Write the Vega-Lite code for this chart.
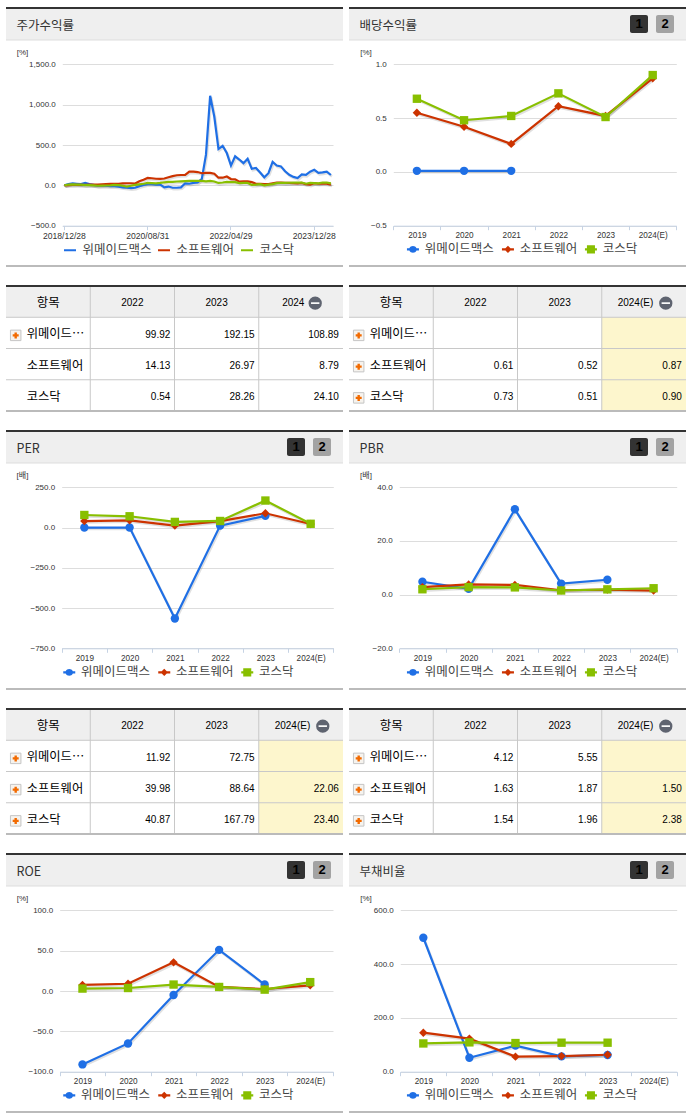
{"$schema":"https://vega.github.io/schema/vega-lite/v6.json","background":"white","padding":{"left":5,"top":7,"right":5,"bottom":0},"bounds":"flush","columns":2,"spacing":{"row":0,"column":6},
"resolve":{"scale":{"color":"independent","shape":"independent","fill":"independent"},"legend":{"color":"independent"}},
"config":{"view":{"stroke":null},"scale":{"bandPaddingInner":0,"bandPaddingOuter":0},
"title":{"anchor":"start","frame":"group","dx":10.5,"dy":29.3,"offset":0,"baseline":"middle","fontSize":12.5,"fontWeight":"normal","color":"#333333","font":"Noto Sans CJK KR"},
"axis":{"labelFont":"Liberation Sans","labelColor":"#333333","labelFontSize":8,"titleFont":"Liberation Sans, Noto Sans CJK KR","titleFontSize":8,"titleFontWeight":"normal","titleColor":"#333333","labelOverlap":false},
"axisX":{"domainColor":"#c6d3e4","tickColor":"#c6d3e4","tickSize":4,"labelPadding":2,"labelAngle":0,"grid":false,"labelFontSize":8.2},
"axisY":{"domain":false,"ticks":false,"gridColor":"#dddddd","grid":true,"labelPadding":7,"titleAngle":0,"titleAlign":"center","titleBaseline":"middle"},
"legend":{"labelFont":"Noto Sans CJK KR","labelFontSize":12.5,"labelColor":"#444444","symbolSize":144,"labelOffset":5.5,"columnPadding":2,"padding":0,"symbolStrokeWidth":2},
"style":{"val":{"font":"Liberation Sans","fontSize":10,"align":"right","baseline":"middle","fill":"#333333","dy":1.8},"hd":{"font":"Liberation Sans","fontSize":10,"align":"center","baseline":"middle","fill":"#333333","dy":1.5},"ko":{"font":"Noto Sans CJK KR","fontSize":12.5,"align":"center","baseline":"middle","fill":"#444444","dy":1.5},"nm":{"font":"Noto Sans CJK KR","fontSize":12.3,"align":"left","baseline":"middle","fill":"#444444","dy":1.5},"btn":{"font":"Liberation Sans","fontSize":13,"fontWeight":"bold","align":"center","baseline":"middle","fill":"#ffffff"}}},
"datasets":{
"hp":[{"p":"h"}],"hb":[{"p":"h","b":"1"},{"p":"h","b":"2"}],"none":[],
"rh":[{"col":"항목","row":"항목"}],
"est":[{"col":"2024(E)","row":"위메이드⋯"},{"col":"2024(E)","row":"소프트웨어"},{"col":"2024(E)","row":"코스닥"}],
"vr":[{"col":"항목"},{"col":"2022"},{"col":"2023"}],
"hr":[{"row":"항목"},{"row":"위메이드⋯"},{"row":"소프트웨어"}],
"rb":[{"row":"코스닥"}],
"th":[{"col":"2022","row":"항목"},{"col":"2023","row":"항목"}],
"te":[{"col":"2024(E)","row":"항목","label":"2024(E)"}],
"te0":[{"col":"2024(E)","row":"항목","label":"2024"}],
"names":[{"col":"항목","row":"위메이드⋯"},{"col":"항목","row":"소프트웨어"},{"col":"항목","row":"코스닥"}],
"ic1":[{"col":"항목","row":"위메이드⋯"}],
"t1":[{"col":"2022","row":"위메이드⋯","val":"99.92"},{"col":"2023","row":"위메이드⋯","val":"192.15"},{"col":"2024(E)","row":"위메이드⋯","val":"108.89"},{"col":"2022","row":"소프트웨어","val":"14.13"},{"col":"2023","row":"소프트웨어","val":"26.97"},{"col":"2024(E)","row":"소프트웨어","val":"8.79"},{"col":"2022","row":"코스닥","val":"0.54"},{"col":"2023","row":"코스닥","val":"28.26"},{"col":"2024(E)","row":"코스닥","val":"24.10"}],
"t2":[{"col":"2022","row":"소프트웨어","val":"0.61"},{"col":"2023","row":"소프트웨어","val":"0.52"},{"col":"2024(E)","row":"소프트웨어","val":"0.87"},{"col":"2022","row":"코스닥","val":"0.73"},{"col":"2023","row":"코스닥","val":"0.51"},{"col":"2024(E)","row":"코스닥","val":"0.90"}],
"t3":[{"col":"2022","row":"위메이드⋯","val":"11.92"},{"col":"2023","row":"위메이드⋯","val":"72.75"},{"col":"2022","row":"소프트웨어","val":"39.98"},{"col":"2023","row":"소프트웨어","val":"88.64"},{"col":"2024(E)","row":"소프트웨어","val":"22.06"},{"col":"2022","row":"코스닥","val":"40.87"},{"col":"2023","row":"코스닥","val":"167.79"},{"col":"2024(E)","row":"코스닥","val":"23.40"}],
"t4":[{"col":"2022","row":"위메이드⋯","val":"4.12"},{"col":"2023","row":"위메이드⋯","val":"5.55"},{"col":"2022","row":"소프트웨어","val":"1.63"},{"col":"2023","row":"소프트웨어","val":"1.87"},{"col":"2024(E)","row":"소프트웨어","val":"1.50"},{"col":"2022","row":"코스닥","val":"1.54"},{"col":"2023","row":"코스닥","val":"1.96"},{"col":"2024(E)","row":"코스닥","val":"2.38"}],
"c1":[
{"d":"2018/12/28","위메이드맥스":0,"소프트웨어":0,"코스닥":0},{"d":"2019/01/31","위메이드맥스":15,"소프트웨어":3,"코스닥":10},{"d":"2019/02/28","위메이드맥스":25,"소프트웨어":5,"코스닥":12},{"d":"2019/03/29","위메이드맥스":20,"소프트웨어":6,"코스닥":10},{"d":"2019/04/30","위메이드맥스":15,"소프트웨어":7,"코스닥":8},{"d":"2019/05/31","위메이드맥스":30,"소프트웨어":5,"코스닥":2},{"d":"2019/06/28","위메이드맥스":15,"소프트웨어":8,"코스닥":3},{"d":"2019/07/31","위메이드맥스":5,"소프트웨어":8,"코스닥":0},{"d":"2019/08/30","위메이드맥스":-5,"소프트웨어":10,"코스닥":-5},{"d":"2019/09/30","위메이드맥스":-5,"소프트웨어":12,"코스닥":-3},{"d":"2019/10/31","위메이드맥스":-5,"소프트웨어":15,"코스닥":-2},{"d":"2019/11/29","위메이드맥스":-10,"소프트웨어":18,"코스닥":0},{"d":"2019/12/30","위메이드맥스":-10,"소프트웨어":18,"코스닥":5},{"d":"2020/01/31","위메이드맥스":-15,"소프트웨어":20,"코스닥":3},{"d":"2020/02/28","위메이드맥스":-25,"소프트웨어":24,"코스닥":-5},{"d":"2020/03/31","위메이드맥스":-30,"소프트웨어":26,"코스닥":-15},{"d":"2020/04/29","위메이드맥스":-35,"소프트웨어":26,"코스닥":-5},{"d":"2020/05/29","위메이드맥스":-30,"소프트웨어":22,"코스닥":5},{"d":"2020/06/30","위메이드맥스":-10,"소프트웨어":50,"코스닥":12},{"d":"2020/07/31","위메이드맥스":5,"소프트웨어":70,"코스닥":20},{"d":"2020/08/31","위메이드맥스":15,"소프트웨어":92,"코스닥":30},{"d":"2020/09/29","위메이드맥스":15,"소프트웨어":88,"코스닥":28},{"d":"2020/10/30","위메이드맥스":10,"소프트웨어":82,"코스닥":25},{"d":"2020/11/30","위메이드맥스":10,"소프트웨어":80,"코스닥":30},{"d":"2020/12/30","위메이드맥스":-25,"소프트웨어":85,"코스닥":38},{"d":"2021/01/29","위메이드맥스":-15,"소프트웨어":100,"코스닥":42},{"d":"2021/02/26","위메이드맥스":-30,"소프트웨어":115,"코스닥":42},{"d":"2021/03/31","위메이드맥스":-30,"소프트웨어":125,"코스닥":48},{"d":"2021/04/30","위메이드맥스":-25,"소프트웨어":128,"코스닥":50},{"d":"2021/05/31","위메이드맥스":25,"소프트웨어":130,"코스닥":52},{"d":"2021/06/30","위메이드맥스":20,"소프트웨어":170,"코스닥":55},{"d":"2021/07/30","위메이드맥스":30,"소프트웨어":170,"코스닥":55},{"d":"2021/08/31","위메이드맥스":35,"소프트웨어":165,"코스닥":55},{"d":"2021/09/30","위메이드맥스":80,"소프트웨어":150,"코스닥":55},{"d":"2021/10/29","위메이드맥스":380,"소프트웨어":155,"코스닥":50},{"d":"2021/11/30","위메이드맥스":1110,"소프트웨어":155,"코스닥":55},{"d":"2021/12/30","위메이드맥스":850,"소프트웨어":145,"코스닥":48},{"d":"2022/01/28","위메이드맥스":450,"소프트웨어":95,"코스닥":30},{"d":"2022/02/28","위메이드맥스":490,"소프트웨어":95,"코스닥":35},{"d":"2022/03/31","위메이드맥스":400,"소프트웨어":110,"코스닥":42},{"d":"2022/04/29","위메이드맥스":245,"소프트웨어":78,"코스닥":40},{"d":"2022/05/31","위메이드맥스":360,"소프트웨어":75,"코스닥":40},{"d":"2022/06/30","위메이드맥스":320,"소프트웨어":45,"코스닥":28},{"d":"2022/07/29","위메이드맥스":275,"소프트웨어":50,"코스닥":30},{"d":"2022/08/31","위메이드맥스":330,"소프트웨어":50,"코스닥":30},{"d":"2022/09/30","위메이드맥스":205,"소프트웨어":40,"코스닥":5},{"d":"2022/10/31","위메이드맥스":215,"소프트웨어":20,"코스닥":8},{"d":"2022/11/30","위메이드맥스":160,"소프트웨어":20,"코스닥":15},{"d":"2022/12/29","위메이드맥스":99.92,"소프트웨어":14.13,"코스닥":0.54},{"d":"2023/01/31","위메이드맥스":150,"소프트웨어":15,"코스닥":8},{"d":"2023/02/28","위메이드맥스":290,"소프트웨어":25,"코스닥":15},{"d":"2023/03/31","위메이드맥스":245,"소프트웨어":35,"코스닥":28},{"d":"2023/04/28","위메이드맥스":235,"소프트웨어":35,"코스닥":30},{"d":"2023/05/31","위메이드맥스":175,"소프트웨어":30,"코스닥":30},{"d":"2023/06/30","위메이드맥스":130,"소프트웨어":30,"코스닥":32},{"d":"2023/07/31","위메이드맥스":105,"소프트웨어":28,"코스닥":35},{"d":"2023/08/31","위메이드맥스":90,"소프트웨어":25,"코스닥":35},{"d":"2023/09/27","위메이드맥스":135,"소프트웨어":30,"코스닥":35},{"d":"2023/10/31","위메이드맥스":130,"소프트웨어":15,"코스닥":20},{"d":"2023/11/30","위메이드맥스":170,"소프트웨어":8,"코스닥":30},{"d":"2023/12/28","위메이드맥스":192.15,"소프트웨어":26.97,"코스닥":28.26},{"d":"2024/01/31","위메이드맥스":155,"소프트웨어":20,"코스닥":25},{"d":"2024/02/29","위메이드맥스":160,"소프트웨어":25,"코스닥":35},{"d":"2024/03/29","위메이드맥스":170,"소프트웨어":20,"코스닥":35},{"d":"2024/04/30","위메이드맥스":128,"소프트웨어":8.79,"코스닥":24.1}],
"c2":[{"yr":"2019","위메이드맥스":0.01,"소프트웨어":0.55,"코스닥":0.68},{"yr":"2020","위메이드맥스":0.01,"소프트웨어":0.42,"코스닥":0.48},{"yr":"2021","위메이드맥스":0.01,"소프트웨어":0.26,"코스닥":0.52},{"yr":"2022","위메이드맥스":null,"소프트웨어":0.61,"코스닥":0.73},{"yr":"2023","위메이드맥스":null,"소프트웨어":0.52,"코스닥":0.51},{"yr":"2024(E)","위메이드맥스":null,"소프트웨어":0.87,"코스닥":0.9}],
"c3":[{"yr":"2019","위메이드맥스":0,"소프트웨어":40,"코스닥":78},{"yr":"2020","위메이드맥스":0,"소프트웨어":45,"코스닥":70},{"yr":"2021","위메이드맥스":-565,"소프트웨어":12,"코스닥":35},{"yr":"2022","위메이드맥스":11.92,"소프트웨어":39.98,"코스닥":40.87},{"yr":"2023","위메이드맥스":72.75,"소프트웨어":88.64,"코스닥":167.79},{"yr":"2024(E)","위메이드맥스":null,"소프트웨어":22.06,"코스닥":23.4}],
"c4":[{"yr":"2019","위메이드맥스":4.8,"소프트웨어":2.8,"코스닥":2},{"yr":"2020","위메이드맥스":2.2,"소프트웨어":3.8,"코스닥":2.8},{"yr":"2021","위메이드맥스":31.8,"소프트웨어":3.6,"코스닥":2.7},{"yr":"2022","위메이드맥스":4.12,"소프트웨어":1.63,"코스닥":1.54},{"yr":"2023","위메이드맥스":5.55,"소프트웨어":1.87,"코스닥":1.96},{"yr":"2024(E)","위메이드맥스":null,"소프트웨어":1.5,"코스닥":2.38}],
"c5":[{"yr":"2019","위메이드맥스":-91,"소프트웨어":7.5,"코스닥":3},{"yr":"2020","위메이드맥스":-65,"소프트웨어":9,"코스닥":3.7},{"yr":"2021","위메이드맥스":-5,"소프트웨어":35.5,"코스닥":8},{"yr":"2022","위메이드맥스":51,"소프트웨어":5,"코스닥":5},{"yr":"2023","위메이드맥스":8,"소프트웨어":2.5,"코스닥":1.7},{"yr":"2024(E)","위메이드맥스":null,"소프트웨어":7,"코스닥":11}],
"c6":[{"yr":"2019","위메이드맥스":498,"소프트웨어":145,"코스닥":105},{"yr":"2020","위메이드맥스":52,"소프트웨어":123,"코스닥":109},{"yr":"2021","위메이드맥스":97,"소프트웨어":56,"코스닥":106.5},{"yr":"2022","위메이드맥스":57,"소프트웨어":58,"코스닥":107.8},{"yr":"2023","위메이드맥스":62,"소프트웨어":63,"코스닥":107.8},{"yr":"2024(E)","위메이드맥스":null,"소프트웨어":null,"코스닥":null}]
},
"concat":[
{"width":337,"height":32,"title":"주가수익률","data":{"name":"hp"},"layer":[{"mark":{"type":"rect","fill":"#efefef"},"encoding":{"y":{"field":"p","type":"nominal","axis":null,"scale":{"type":"band"}}}},{"mark":{"type":"rule","color":"#333333","strokeWidth":2},"encoding":{"y":{"field":"p","type":"nominal","axis":null,"bandPosition":0}}},{"mark":{"type":"rule","color":"#dddddd","strokeWidth":1},"encoding":{"y":{"field":"p","type":"nominal","axis":null,"bandPosition":1}}}]},
{"width":337,"height":32,"title":"배당수익률","data":{"name":"hp"},"layer":[{"mark":{"type":"rect","fill":"#efefef"},"encoding":{"y":{"field":"p","type":"nominal","axis":null,"scale":{"type":"band"}}}},{"mark":{"type":"rule","color":"#333333","strokeWidth":2},"encoding":{"y":{"field":"p","type":"nominal","axis":null,"bandPosition":0}}},{"mark":{"type":"rule","color":"#dddddd","strokeWidth":1},"encoding":{"y":{"field":"p","type":"nominal","axis":null,"bandPosition":1}}},{"data":{"name":"hb"},"mark":{"type":"rect","width":18,"height":18,"cornerRadius":2},"encoding":{"x":{"field":"b","type":"nominal","axis":null,"scale":{"type":"point","domain":["1","2"],"range":[290,316],"padding":0}},"y":{"field":"p","type":"nominal","axis":null},"fill":{"field":"b","type":"nominal","legend":null,"scale":{"domain":["1","2"],"range":["#333333","#a3a3a3"]}}}},{"data":{"name":"hb"},"mark":{"type":"text","style":"btn"},"encoding":{"x":{"field":"b","type":"nominal","axis":null},"y":{"field":"p","type":"nominal","axis":null},"text":{"field":"b"}}}]},

{"width":337,"height":226,"data":{"name":"c1"},"transform":[{"fold":["위메이드맥스","소프트웨어","코스닥"],"as":["s","v"]}],"encoding":{"x":{"field":"d","type":"nominal","sort":null,"scale":{"type":"band","range":[56.3,327]},"axis":{"title":null,"offset":-40.3,"tickBand":"center","values":["2018/12/28","2020/08/31","2022/04/29","2023/12/28"],"labelFontSize":8.6}},"y":{"field":"v","type":"quantitative","scale":{"domain":[-500,1500],"range":[185.7,24.3],"nice":false,"zero":false},"axis":{"values":[-500,0,500,1000,1500],"format":",.1f","offset":-56.3,"title":"[%]","titleX":-40.3,"titleY":12.3}}},"layer":[{"mark":{"type":"line","stroke":"#000000","opacity":0.12,"strokeWidth":2.5,"xOffset":1,"yOffset":1.5},"encoding":{"detail":{"field":"s"}}},{"mark":{"type":"line","strokeWidth":2.2},"encoding":{"color":{"field":"s","type":"nominal","scale":{"domain":["위메이드맥스","소프트웨어","코스닥"],"range":["#1f6fe5","#cc3300","#88bf00"]},"legend":{"title":null,"orient":"none","legendX":57,"legendY":203,"direction":"horizontal","symbolType":"stroke"}}}}]},
{"width":337,"height":226,"data":{"name":"c2"},"transform":[{"fold":["위메이드맥스","소프트웨어","코스닥"],"as":["s","v"]}],"encoding":{"x":{"field":"yr","type":"nominal","scale":{"type":"band","domain":["2019","2020","2021","2022","2023","2024(E)"],"range":[44.3,327.3]},"axis":{"title":null,"offset":-40.3,"tickBand":"extent"}},"y":{"field":"v","type":"quantitative","scale":{"domain":[-0.5,1],"range":[185.7,24.3],"nice":false,"zero":false},"axis":{"values":[-0.5,0,0.5,1],"format":".1f","offset":-44.3,"title":"[%]","titleX":-27.8,"titleY":12.3}}},"layer":[{"mark":{"type":"line","stroke":"#000000","opacity":0.12,"strokeWidth":2.5,"xOffset":1,"yOffset":1.5},"encoding":{"detail":{"field":"s"}}},{"mark":{"type":"line","strokeWidth":2.2},"encoding":{"color":{"field":"s","type":"nominal","scale":{"domain":["위메이드맥스","소프트웨어","코스닥"],"range":["#1f6fe5","#cc3300","#88bf00"]}}}},{"mark":{"type":"point","filled":true,"size":0},"encoding":{"color":{"field":"s","type":"nominal","legend":{"title":null,"orient":"none","legendX":57.7,"legendY":203,"direction":"horizontal","columnPadding":7,"symbolStrokeWidth":0,"symbolOpacity":1}},"shape":{"field":"s","type":"nominal","legend":null,"scale":{"domain":["위메이드맥스","소프트웨어","코스닥"],"range":["M-1 -.17H-.6A.67 .67 0 0 1 .6 -.17H1V.17H.6A.67 .67 0 0 1 -.6 .17H-1Z","M-1 -.17H-.42L0 -.6L.42 -.17H1V.17H.42L0 .6L-.42 .17H-1Z","M-1 -.17H-.67V-.67H.67V-.17H1V.17H.67V.67H-.67V.17H-1Z"]}}}},{"transform":[{"filter":"datum.s==='위메이드맥스'"}],"mark":{"type":"point","shape":"circle","filled":true,"opacity":1,"size":70},"encoding":{"color":{"field":"s","type":"nominal"}}},{"transform":[{"filter":"datum.s==='소프트웨어'"}],"mark":{"type":"point","shape":"diamond","filled":true,"opacity":1,"size":70},"encoding":{"color":{"field":"s","type":"nominal"}}},{"transform":[{"filter":"datum.s==='코스닥'"}],"mark":{"type":"point","shape":"square","filled":true,"opacity":1,"size":70},"encoding":{"color":{"field":"s","type":"nominal"}}}]},

{"width":337,"height":20,"data":{"name":"hp"},"mark":{"type":"rule","color":"#bbbbbb","strokeWidth":2},"encoding":{"y":{"field":"p","type":"nominal","axis":null,"bandPosition":0,"scale":{"type":"band"}}}},
{"width":337,"height":20,"data":{"name":"hp"},"mark":{"type":"rule","color":"#bbbbbb","strokeWidth":2},"encoding":{"y":{"field":"p","type":"nominal","axis":null,"bandPosition":0,"scale":{"type":"band"}}}},

{"width":337,"height":125,"layer":[
{"data":{"name":"rh"},"mark":{"type":"rect","fill":"#efefef"},"encoding":{"y":{"field":"row","type":"nominal","axis":null,"scale":{"type":"band","domain":["항목","위메이드⋯","소프트웨어","코스닥"]}}}},
{"data":{"name":"vr"},"mark":{"type":"rule","color":"#c8c8c8"},"encoding":{"x":{"field":"col","type":"nominal","axis":null,"bandPosition":1,"scale":{"type":"band","domain":["항목","2022","2023","2024(E)"]}}}},
{"data":{"name":"hr"},"mark":{"type":"rule","color":"#c8c8c8"},"encoding":{"y":{"field":"row","type":"nominal","axis":null,"bandPosition":1}}},
{"data":{"name":"rb"},"mark":{"type":"rule","color":"#bbbbbb","strokeWidth":2},"encoding":{"y":{"field":"row","type":"nominal","axis":null,"bandPosition":1}}},
{"data":{"name":"rh"},"mark":{"type":"rule","color":"#333333","strokeWidth":2},"encoding":{"y":{"field":"row","type":"nominal","axis":null,"bandPosition":0}}},
{"data":{"name":"rh"},"mark":{"type":"text","style":"ko"},"encoding":{"x":{"field":"col","type":"nominal","axis":null,"bandPosition":0.5},"y":{"field":"row","type":"nominal","axis":null},"text":{"field":"row"}}},
{"data":{"name":"th"},"mark":{"type":"text","style":"hd"},"encoding":{"x":{"field":"col","type":"nominal","axis":null,"bandPosition":0.5},"y":{"field":"row","type":"nominal","axis":null},"text":{"field":"col"}}},
{"data":{"name":"te0"},"mark":{"type":"text","style":"hd"},"encoding":{"x":{"field":"col","type":"nominal","axis":null,"bandPosition":0.41},"y":{"field":"row","type":"nominal","axis":null},"text":{"field":"label"}}},
{"data":{"name":"te0"},"mark":{"type":"point","shape":"circle","filled":true,"opacity":1,"color":"#5f6470","size":177,"yOffset":1.5},"encoding":{"x":{"field":"col","type":"nominal","axis":null,"bandPosition":0.67},"y":{"field":"row","type":"nominal","axis":null}}},
{"data":{"name":"te0"},"mark":{"type":"point","shape":"M-1 -.2H1V.2H-1Z","filled":true,"opacity":1,"color":"#ffffff","size":70,"yOffset":1.5},"encoding":{"x":{"field":"col","type":"nominal","axis":null,"bandPosition":0.67},"y":{"field":"row","type":"nominal","axis":null}}},
{"data":{"name":"names"},"mark":{"type":"text","style":"nm"},"encoding":{"x":{"field":"col","type":"nominal","axis":null,"bandPosition":0.245},"y":{"field":"row","type":"nominal","axis":null},"text":{"field":"row"}}},
{"data":{"name":"ic1"},"mark":{"type":"point","shape":"square","filled":true,"opacity":1,"fill":"#f6f3ee","stroke":"#c5c5c5","strokeWidth":1,"size":110,"yOffset":2.5},"encoding":{"x":{"field":"col","type":"nominal","axis":null,"bandPosition":0.115},"y":{"field":"row","type":"nominal","axis":null}}},
{"data":{"name":"ic1"},"mark":{"type":"point","shape":"cross","filled":true,"opacity":1,"color":"#f26a00","size":36,"yOffset":2.5},"encoding":{"x":{"field":"col","type":"nominal","axis":null,"bandPosition":0.115},"y":{"field":"row","type":"nominal","axis":null}}},
{"data":{"name":"t1"},"mark":{"type":"text","style":"val"},"encoding":{"x":{"field":"col","type":"nominal","axis":null,"bandPosition":0.95},"y":{"field":"row","type":"nominal","axis":null},"text":{"field":"val"}}}
]},
{"width":337,"height":125,"layer":[
{"data":{"name":"rh"},"mark":{"type":"rect","fill":"#efefef"},"encoding":{"y":{"field":"row","type":"nominal","axis":null,"scale":{"type":"band","domain":["항목","위메이드⋯","소프트웨어","코스닥"]}}}},
{"data":{"name":"est"},"mark":{"type":"rect","fill":"#fdf6cd"},"encoding":{"x":{"field":"col","type":"nominal","axis":null,"scale":{"type":"band","domain":["항목","2022","2023","2024(E)"]}},"y":{"field":"row","type":"nominal","axis":null}}},
{"data":{"name":"vr"},"mark":{"type":"rule","color":"#c8c8c8"},"encoding":{"x":{"field":"col","type":"nominal","axis":null,"bandPosition":1}}},
{"data":{"name":"hr"},"mark":{"type":"rule","color":"#c8c8c8"},"encoding":{"y":{"field":"row","type":"nominal","axis":null,"bandPosition":1}}},
{"data":{"name":"rb"},"mark":{"type":"rule","color":"#bbbbbb","strokeWidth":2},"encoding":{"y":{"field":"row","type":"nominal","axis":null,"bandPosition":1}}},
{"data":{"name":"rh"},"mark":{"type":"rule","color":"#333333","strokeWidth":2},"encoding":{"y":{"field":"row","type":"nominal","axis":null,"bandPosition":0}}},
{"data":{"name":"rh"},"mark":{"type":"text","style":"ko"},"encoding":{"x":{"field":"col","type":"nominal","axis":null,"bandPosition":0.5},"y":{"field":"row","type":"nominal","axis":null},"text":{"field":"row"}}},
{"data":{"name":"th"},"mark":{"type":"text","style":"hd"},"encoding":{"x":{"field":"col","type":"nominal","axis":null,"bandPosition":0.5},"y":{"field":"row","type":"nominal","axis":null},"text":{"field":"col"}}},
{"data":{"name":"te"},"mark":{"type":"text","style":"hd"},"encoding":{"x":{"field":"col","type":"nominal","axis":null,"bandPosition":0.4},"y":{"field":"row","type":"nominal","axis":null},"text":{"field":"label"}}},
{"data":{"name":"te"},"mark":{"type":"point","shape":"circle","filled":true,"opacity":1,"color":"#5f6470","size":177,"yOffset":1.5},"encoding":{"x":{"field":"col","type":"nominal","axis":null,"bandPosition":0.76},"y":{"field":"row","type":"nominal","axis":null}}},
{"data":{"name":"te"},"mark":{"type":"point","shape":"M-1 -.2H1V.2H-1Z","filled":true,"opacity":1,"color":"#ffffff","size":70,"yOffset":1.5},"encoding":{"x":{"field":"col","type":"nominal","axis":null,"bandPosition":0.76},"y":{"field":"row","type":"nominal","axis":null}}},
{"data":{"name":"names"},"mark":{"type":"text","style":"nm"},"encoding":{"x":{"field":"col","type":"nominal","axis":null,"bandPosition":0.245},"y":{"field":"row","type":"nominal","axis":null},"text":{"field":"row"}}},
{"data":{"name":"names"},"mark":{"type":"point","shape":"square","filled":true,"opacity":1,"fill":"#f6f3ee","stroke":"#c5c5c5","strokeWidth":1,"size":110,"yOffset":2.5},"encoding":{"x":{"field":"col","type":"nominal","axis":null,"bandPosition":0.115},"y":{"field":"row","type":"nominal","axis":null}}},
{"data":{"name":"names"},"mark":{"type":"point","shape":"cross","filled":true,"opacity":1,"color":"#f26a00","size":36,"yOffset":2.5},"encoding":{"x":{"field":"col","type":"nominal","axis":null,"bandPosition":0.115},"y":{"field":"row","type":"nominal","axis":null}}},
{"data":{"name":"t2"},"mark":{"type":"text","style":"val"},"encoding":{"x":{"field":"col","type":"nominal","axis":null,"bandPosition":0.95},"y":{"field":"row","type":"nominal","axis":null},"text":{"field":"val"}}}
]},

{"width":337,"height":20,"data":{"name":"none"},"mark":"rect"},
{"width":337,"height":20,"data":{"name":"none"},"mark":"rect"},

{"width":337,"height":32,"title":"PER","data":{"name":"hp"},"layer":[{"mark":{"type":"rect","fill":"#efefef"},"encoding":{"y":{"field":"p","type":"nominal","axis":null,"scale":{"type":"band"}}}},{"mark":{"type":"rule","color":"#333333","strokeWidth":2},"encoding":{"y":{"field":"p","type":"nominal","axis":null,"bandPosition":0}}},{"mark":{"type":"rule","color":"#dddddd","strokeWidth":1},"encoding":{"y":{"field":"p","type":"nominal","axis":null,"bandPosition":1}}},{"data":{"name":"hb"},"mark":{"type":"rect","width":18,"height":18,"cornerRadius":2},"encoding":{"x":{"field":"b","type":"nominal","axis":null,"scale":{"type":"point","domain":["1","2"],"range":[290,316],"padding":0}},"y":{"field":"p","type":"nominal","axis":null},"fill":{"field":"b","type":"nominal","legend":null,"scale":{"domain":["1","2"],"range":["#333333","#a3a3a3"]}}}},{"data":{"name":"hb"},"mark":{"type":"text","style":"btn"},"encoding":{"x":{"field":"b","type":"nominal","axis":null},"y":{"field":"p","type":"nominal","axis":null},"text":{"field":"b"}}}]},
{"width":337,"height":32,"title":"PBR","data":{"name":"hp"},"layer":[{"mark":{"type":"rect","fill":"#efefef"},"encoding":{"y":{"field":"p","type":"nominal","axis":null,"scale":{"type":"band"}}}},{"mark":{"type":"rule","color":"#333333","strokeWidth":2},"encoding":{"y":{"field":"p","type":"nominal","axis":null,"bandPosition":0}}},{"mark":{"type":"rule","color":"#dddddd","strokeWidth":1},"encoding":{"y":{"field":"p","type":"nominal","axis":null,"bandPosition":1}}},{"data":{"name":"hb"},"mark":{"type":"rect","width":18,"height":18,"cornerRadius":2},"encoding":{"x":{"field":"b","type":"nominal","axis":null,"scale":{"type":"point","domain":["1","2"],"range":[290,316],"padding":0}},"y":{"field":"p","type":"nominal","axis":null},"fill":{"field":"b","type":"nominal","legend":null,"scale":{"domain":["1","2"],"range":["#333333","#a3a3a3"]}}}},{"data":{"name":"hb"},"mark":{"type":"text","style":"btn"},"encoding":{"x":{"field":"b","type":"nominal","axis":null},"y":{"field":"p","type":"nominal","axis":null},"text":{"field":"b"}}}]},

{"width":337,"height":226,"data":{"name":"c3"},"transform":[{"fold":["위메이드맥스","소프트웨어","코스닥"],"as":["s","v"]}],"encoding":{"x":{"field":"yr","type":"nominal","scale":{"type":"band","domain":["2019","2020","2021","2022","2023","2024(E)"],"range":[55.7,327.3]},"axis":{"title":null,"offset":-40.7,"tickBand":"extent"}},"y":{"field":"v","type":"quantitative","scale":{"domain":[-750,250],"range":[185.3,24.3],"nice":false,"zero":false},"axis":{"values":[-750,-500,-250,0,250],"format":",.1f","offset":-55.7,"title":"[배]","titleX":-39.7,"titleY":12.3}}},"layer":[{"mark":{"type":"line","stroke":"#000000","opacity":0.12,"strokeWidth":2.5,"xOffset":1,"yOffset":1.5},"encoding":{"detail":{"field":"s"}}},{"mark":{"type":"line","strokeWidth":2.2},"encoding":{"color":{"field":"s","type":"nominal","scale":{"domain":["위메이드맥스","소프트웨어","코스닥"],"range":["#1f6fe5","#cc3300","#88bf00"]}}}},{"mark":{"type":"point","filled":true,"size":0},"encoding":{"color":{"field":"s","type":"nominal","legend":{"title":null,"orient":"none","legendX":57,"legendY":203,"direction":"horizontal","columnPadding":7,"symbolStrokeWidth":0,"symbolOpacity":1}},"shape":{"field":"s","type":"nominal","legend":null,"scale":{"domain":["위메이드맥스","소프트웨어","코스닥"],"range":["M-1 -.17H-.6A.67 .67 0 0 1 .6 -.17H1V.17H.6A.67 .67 0 0 1 -.6 .17H-1Z","M-1 -.17H-.42L0 -.6L.42 -.17H1V.17H.42L0 .6L-.42 .17H-1Z","M-1 -.17H-.67V-.67H.67V-.17H1V.17H.67V.67H-.67V.17H-1Z"]}}}},{"transform":[{"filter":"datum.s==='위메이드맥스'"}],"mark":{"type":"point","shape":"circle","filled":true,"opacity":1,"size":70},"encoding":{"color":{"field":"s","type":"nominal"}}},{"transform":[{"filter":"datum.s==='소프트웨어'"}],"mark":{"type":"point","shape":"diamond","filled":true,"opacity":1,"size":70},"encoding":{"color":{"field":"s","type":"nominal"}}},{"transform":[{"filter":"datum.s==='코스닥'"}],"mark":{"type":"point","shape":"square","filled":true,"opacity":1,"size":70},"encoding":{"color":{"field":"s","type":"nominal"}}}]},
{"width":337,"height":226,"data":{"name":"c4"},"transform":[{"fold":["위메이드맥스","소프트웨어","코스닥"],"as":["s","v"]}],"encoding":{"x":{"field":"yr","type":"nominal","scale":{"type":"band","domain":["2019","2020","2021","2022","2023","2024(E)"],"range":[50.3,327.7]},"axis":{"title":null,"offset":-40.7,"tickBand":"extent"}},"y":{"field":"v","type":"quantitative","scale":{"domain":[-20,40],"range":[185.3,24.3],"nice":false,"zero":false},"axis":{"values":[-20,0,20,40],"format":".1f","offset":-50.3,"title":"[배]","titleX":-33.8,"titleY":12.3}}},"layer":[{"mark":{"type":"line","stroke":"#000000","opacity":0.12,"strokeWidth":2.5,"xOffset":1,"yOffset":1.5},"encoding":{"detail":{"field":"s"}}},{"mark":{"type":"line","strokeWidth":2.2},"encoding":{"color":{"field":"s","type":"nominal","scale":{"domain":["위메이드맥스","소프트웨어","코스닥"],"range":["#1f6fe5","#cc3300","#88bf00"]}}}},{"mark":{"type":"point","filled":true,"size":0},"encoding":{"color":{"field":"s","type":"nominal","legend":{"title":null,"orient":"none","legendX":57.7,"legendY":203,"direction":"horizontal","columnPadding":7,"symbolStrokeWidth":0,"symbolOpacity":1}},"shape":{"field":"s","type":"nominal","legend":null,"scale":{"domain":["위메이드맥스","소프트웨어","코스닥"],"range":["M-1 -.17H-.6A.67 .67 0 0 1 .6 -.17H1V.17H.6A.67 .67 0 0 1 -.6 .17H-1Z","M-1 -.17H-.42L0 -.6L.42 -.17H1V.17H.42L0 .6L-.42 .17H-1Z","M-1 -.17H-.67V-.67H.67V-.17H1V.17H.67V.67H-.67V.17H-1Z"]}}}},{"transform":[{"filter":"datum.s==='위메이드맥스'"}],"mark":{"type":"point","shape":"circle","filled":true,"opacity":1,"size":70},"encoding":{"color":{"field":"s","type":"nominal"}}},{"transform":[{"filter":"datum.s==='소프트웨어'"}],"mark":{"type":"point","shape":"diamond","filled":true,"opacity":1,"size":70},"encoding":{"color":{"field":"s","type":"nominal"}}},{"transform":[{"filter":"datum.s==='코스닥'"}],"mark":{"type":"point","shape":"square","filled":true,"opacity":1,"size":70},"encoding":{"color":{"field":"s","type":"nominal"}}}]},

{"width":337,"height":20,"data":{"name":"hp"},"mark":{"type":"rule","color":"#bbbbbb","strokeWidth":2},"encoding":{"y":{"field":"p","type":"nominal","axis":null,"bandPosition":0,"scale":{"type":"band"}}}},
{"width":337,"height":20,"data":{"name":"hp"},"mark":{"type":"rule","color":"#bbbbbb","strokeWidth":2},"encoding":{"y":{"field":"p","type":"nominal","axis":null,"bandPosition":0,"scale":{"type":"band"}}}},

{"width":337,"height":125,"layer":[
{"data":{"name":"rh"},"mark":{"type":"rect","fill":"#efefef"},"encoding":{"y":{"field":"row","type":"nominal","axis":null,"scale":{"type":"band","domain":["항목","위메이드⋯","소프트웨어","코스닥"]}}}},
{"data":{"name":"est"},"mark":{"type":"rect","fill":"#fdf6cd"},"encoding":{"x":{"field":"col","type":"nominal","axis":null,"scale":{"type":"band","domain":["항목","2022","2023","2024(E)"]}},"y":{"field":"row","type":"nominal","axis":null}}},
{"data":{"name":"vr"},"mark":{"type":"rule","color":"#c8c8c8"},"encoding":{"x":{"field":"col","type":"nominal","axis":null,"bandPosition":1}}},
{"data":{"name":"hr"},"mark":{"type":"rule","color":"#c8c8c8"},"encoding":{"y":{"field":"row","type":"nominal","axis":null,"bandPosition":1}}},
{"data":{"name":"rb"},"mark":{"type":"rule","color":"#bbbbbb","strokeWidth":2},"encoding":{"y":{"field":"row","type":"nominal","axis":null,"bandPosition":1}}},
{"data":{"name":"rh"},"mark":{"type":"rule","color":"#333333","strokeWidth":2},"encoding":{"y":{"field":"row","type":"nominal","axis":null,"bandPosition":0}}},
{"data":{"name":"rh"},"mark":{"type":"text","style":"ko"},"encoding":{"x":{"field":"col","type":"nominal","axis":null,"bandPosition":0.5},"y":{"field":"row","type":"nominal","axis":null},"text":{"field":"row"}}},
{"data":{"name":"th"},"mark":{"type":"text","style":"hd"},"encoding":{"x":{"field":"col","type":"nominal","axis":null,"bandPosition":0.5},"y":{"field":"row","type":"nominal","axis":null},"text":{"field":"col"}}},
{"data":{"name":"te"},"mark":{"type":"text","style":"hd"},"encoding":{"x":{"field":"col","type":"nominal","axis":null,"bandPosition":0.4},"y":{"field":"row","type":"nominal","axis":null},"text":{"field":"label"}}},
{"data":{"name":"te"},"mark":{"type":"point","shape":"circle","filled":true,"opacity":1,"color":"#5f6470","size":177,"yOffset":1.5},"encoding":{"x":{"field":"col","type":"nominal","axis":null,"bandPosition":0.76},"y":{"field":"row","type":"nominal","axis":null}}},
{"data":{"name":"te"},"mark":{"type":"point","shape":"M-1 -.2H1V.2H-1Z","filled":true,"opacity":1,"color":"#ffffff","size":70,"yOffset":1.5},"encoding":{"x":{"field":"col","type":"nominal","axis":null,"bandPosition":0.76},"y":{"field":"row","type":"nominal","axis":null}}},
{"data":{"name":"names"},"mark":{"type":"text","style":"nm"},"encoding":{"x":{"field":"col","type":"nominal","axis":null,"bandPosition":0.245},"y":{"field":"row","type":"nominal","axis":null},"text":{"field":"row"}}},
{"data":{"name":"names"},"mark":{"type":"point","shape":"square","filled":true,"opacity":1,"fill":"#f6f3ee","stroke":"#c5c5c5","strokeWidth":1,"size":110,"yOffset":2.5},"encoding":{"x":{"field":"col","type":"nominal","axis":null,"bandPosition":0.115},"y":{"field":"row","type":"nominal","axis":null}}},
{"data":{"name":"names"},"mark":{"type":"point","shape":"cross","filled":true,"opacity":1,"color":"#f26a00","size":36,"yOffset":2.5},"encoding":{"x":{"field":"col","type":"nominal","axis":null,"bandPosition":0.115},"y":{"field":"row","type":"nominal","axis":null}}},
{"data":{"name":"t3"},"mark":{"type":"text","style":"val"},"encoding":{"x":{"field":"col","type":"nominal","axis":null,"bandPosition":0.95},"y":{"field":"row","type":"nominal","axis":null},"text":{"field":"val"}}}
]},
{"width":337,"height":125,"layer":[
{"data":{"name":"rh"},"mark":{"type":"rect","fill":"#efefef"},"encoding":{"y":{"field":"row","type":"nominal","axis":null,"scale":{"type":"band","domain":["항목","위메이드⋯","소프트웨어","코스닥"]}}}},
{"data":{"name":"est"},"mark":{"type":"rect","fill":"#fdf6cd"},"encoding":{"x":{"field":"col","type":"nominal","axis":null,"scale":{"type":"band","domain":["항목","2022","2023","2024(E)"]}},"y":{"field":"row","type":"nominal","axis":null}}},
{"data":{"name":"vr"},"mark":{"type":"rule","color":"#c8c8c8"},"encoding":{"x":{"field":"col","type":"nominal","axis":null,"bandPosition":1}}},
{"data":{"name":"hr"},"mark":{"type":"rule","color":"#c8c8c8"},"encoding":{"y":{"field":"row","type":"nominal","axis":null,"bandPosition":1}}},
{"data":{"name":"rb"},"mark":{"type":"rule","color":"#bbbbbb","strokeWidth":2},"encoding":{"y":{"field":"row","type":"nominal","axis":null,"bandPosition":1}}},
{"data":{"name":"rh"},"mark":{"type":"rule","color":"#333333","strokeWidth":2},"encoding":{"y":{"field":"row","type":"nominal","axis":null,"bandPosition":0}}},
{"data":{"name":"rh"},"mark":{"type":"text","style":"ko"},"encoding":{"x":{"field":"col","type":"nominal","axis":null,"bandPosition":0.5},"y":{"field":"row","type":"nominal","axis":null},"text":{"field":"row"}}},
{"data":{"name":"th"},"mark":{"type":"text","style":"hd"},"encoding":{"x":{"field":"col","type":"nominal","axis":null,"bandPosition":0.5},"y":{"field":"row","type":"nominal","axis":null},"text":{"field":"col"}}},
{"data":{"name":"te"},"mark":{"type":"text","style":"hd"},"encoding":{"x":{"field":"col","type":"nominal","axis":null,"bandPosition":0.4},"y":{"field":"row","type":"nominal","axis":null},"text":{"field":"label"}}},
{"data":{"name":"te"},"mark":{"type":"point","shape":"circle","filled":true,"opacity":1,"color":"#5f6470","size":177,"yOffset":1.5},"encoding":{"x":{"field":"col","type":"nominal","axis":null,"bandPosition":0.76},"y":{"field":"row","type":"nominal","axis":null}}},
{"data":{"name":"te"},"mark":{"type":"point","shape":"M-1 -.2H1V.2H-1Z","filled":true,"opacity":1,"color":"#ffffff","size":70,"yOffset":1.5},"encoding":{"x":{"field":"col","type":"nominal","axis":null,"bandPosition":0.76},"y":{"field":"row","type":"nominal","axis":null}}},
{"data":{"name":"names"},"mark":{"type":"text","style":"nm"},"encoding":{"x":{"field":"col","type":"nominal","axis":null,"bandPosition":0.245},"y":{"field":"row","type":"nominal","axis":null},"text":{"field":"row"}}},
{"data":{"name":"names"},"mark":{"type":"point","shape":"square","filled":true,"opacity":1,"fill":"#f6f3ee","stroke":"#c5c5c5","strokeWidth":1,"size":110,"yOffset":2.5},"encoding":{"x":{"field":"col","type":"nominal","axis":null,"bandPosition":0.115},"y":{"field":"row","type":"nominal","axis":null}}},
{"data":{"name":"names"},"mark":{"type":"point","shape":"cross","filled":true,"opacity":1,"color":"#f26a00","size":36,"yOffset":2.5},"encoding":{"x":{"field":"col","type":"nominal","axis":null,"bandPosition":0.115},"y":{"field":"row","type":"nominal","axis":null}}},
{"data":{"name":"t4"},"mark":{"type":"text","style":"val"},"encoding":{"x":{"field":"col","type":"nominal","axis":null,"bandPosition":0.95},"y":{"field":"row","type":"nominal","axis":null},"text":{"field":"val"}}}
]},

{"width":337,"height":20,"data":{"name":"none"},"mark":"rect"},
{"width":337,"height":20,"data":{"name":"none"},"mark":"rect"},

{"width":337,"height":32,"title":"ROE","data":{"name":"hp"},"layer":[{"mark":{"type":"rect","fill":"#efefef"},"encoding":{"y":{"field":"p","type":"nominal","axis":null,"scale":{"type":"band"}}}},{"mark":{"type":"rule","color":"#333333","strokeWidth":2},"encoding":{"y":{"field":"p","type":"nominal","axis":null,"bandPosition":0}}},{"mark":{"type":"rule","color":"#dddddd","strokeWidth":1},"encoding":{"y":{"field":"p","type":"nominal","axis":null,"bandPosition":1}}},{"data":{"name":"hb"},"mark":{"type":"rect","width":18,"height":18,"cornerRadius":2},"encoding":{"x":{"field":"b","type":"nominal","axis":null,"scale":{"type":"point","domain":["1","2"],"range":[290,316],"padding":0}},"y":{"field":"p","type":"nominal","axis":null},"fill":{"field":"b","type":"nominal","legend":null,"scale":{"domain":["1","2"],"range":["#333333","#a3a3a3"]}}}},{"data":{"name":"hb"},"mark":{"type":"text","style":"btn"},"encoding":{"x":{"field":"b","type":"nominal","axis":null},"y":{"field":"p","type":"nominal","axis":null},"text":{"field":"b"}}}]},
{"width":337,"height":32,"title":"부채비율","data":{"name":"hp"},"layer":[{"mark":{"type":"rect","fill":"#efefef"},"encoding":{"y":{"field":"p","type":"nominal","axis":null,"scale":{"type":"band"}}}},{"mark":{"type":"rule","color":"#333333","strokeWidth":2},"encoding":{"y":{"field":"p","type":"nominal","axis":null,"bandPosition":0}}},{"mark":{"type":"rule","color":"#dddddd","strokeWidth":1},"encoding":{"y":{"field":"p","type":"nominal","axis":null,"bandPosition":1}}},{"data":{"name":"hb"},"mark":{"type":"rect","width":18,"height":18,"cornerRadius":2},"encoding":{"x":{"field":"b","type":"nominal","axis":null,"scale":{"type":"point","domain":["1","2"],"range":[290,316],"padding":0}},"y":{"field":"p","type":"nominal","axis":null},"fill":{"field":"b","type":"nominal","legend":null,"scale":{"domain":["1","2"],"range":["#333333","#a3a3a3"]}}}},{"data":{"name":"hb"},"mark":{"type":"text","style":"btn"},"encoding":{"x":{"field":"b","type":"nominal","axis":null},"y":{"field":"p","type":"nominal","axis":null},"text":{"field":"b"}}}]},

{"width":337,"height":226,"data":{"name":"c5"},"transform":[{"fold":["위메이드맥스","소프트웨어","코스닥"],"as":["s","v"]}],"encoding":{"x":{"field":"yr","type":"nominal","scale":{"type":"band","domain":["2019","2020","2021","2022","2023","2024(E)"],"range":[53.7,327]},"axis":{"title":null,"offset":-40.3,"tickBand":"extent"}},"y":{"field":"v","type":"quantitative","scale":{"domain":[-100,100],"range":[185.7,24.3],"nice":false,"zero":false},"axis":{"values":[-100,-50,0,50,100],"format":".1f","offset":-53.7,"title":"[%]","titleX":-37.7,"titleY":12.3}}},"layer":[{"mark":{"type":"line","stroke":"#000000","opacity":0.12,"strokeWidth":2.5,"xOffset":1,"yOffset":1.5},"encoding":{"detail":{"field":"s"}}},{"mark":{"type":"line","strokeWidth":2.2},"encoding":{"color":{"field":"s","type":"nominal","scale":{"domain":["위메이드맥스","소프트웨어","코스닥"],"range":["#1f6fe5","#cc3300","#88bf00"]}}}},{"mark":{"type":"point","filled":true,"size":0},"encoding":{"color":{"field":"s","type":"nominal","legend":{"title":null,"orient":"none","legendX":57,"legendY":203,"direction":"horizontal","columnPadding":7,"symbolStrokeWidth":0,"symbolOpacity":1}},"shape":{"field":"s","type":"nominal","legend":null,"scale":{"domain":["위메이드맥스","소프트웨어","코스닥"],"range":["M-1 -.17H-.6A.67 .67 0 0 1 .6 -.17H1V.17H.6A.67 .67 0 0 1 -.6 .17H-1Z","M-1 -.17H-.42L0 -.6L.42 -.17H1V.17H.42L0 .6L-.42 .17H-1Z","M-1 -.17H-.67V-.67H.67V-.17H1V.17H.67V.67H-.67V.17H-1Z"]}}}},{"transform":[{"filter":"datum.s==='위메이드맥스'"}],"mark":{"type":"point","shape":"circle","filled":true,"opacity":1,"size":70},"encoding":{"color":{"field":"s","type":"nominal"}}},{"transform":[{"filter":"datum.s==='소프트웨어'"}],"mark":{"type":"point","shape":"diamond","filled":true,"opacity":1,"size":70},"encoding":{"color":{"field":"s","type":"nominal"}}},{"transform":[{"filter":"datum.s==='코스닥'"}],"mark":{"type":"point","shape":"square","filled":true,"opacity":1,"size":70},"encoding":{"color":{"field":"s","type":"nominal"}}}]},
{"width":337,"height":226,"data":{"name":"c6"},"transform":[{"fold":["위메이드맥스","소프트웨어","코스닥"],"as":["s","v"]}],"encoding":{"x":{"field":"yr","type":"nominal","scale":{"type":"band","domain":["2019","2020","2021","2022","2023","2024(E)"],"range":[51.3,327.7]},"axis":{"title":null,"offset":-40.3,"tickBand":"extent"}},"y":{"field":"v","type":"quantitative","scale":{"domain":[0,600],"range":[185.7,24.3],"nice":false,"zero":false},"axis":{"values":[0,200,400,600],"format":".1f","offset":-51.3,"title":"[%]","titleX":-34.8,"titleY":12.3}}},"layer":[{"mark":{"type":"line","stroke":"#000000","opacity":0.12,"strokeWidth":2.5,"xOffset":1,"yOffset":1.5},"encoding":{"detail":{"field":"s"}}},{"mark":{"type":"line","strokeWidth":2.2},"encoding":{"color":{"field":"s","type":"nominal","scale":{"domain":["위메이드맥스","소프트웨어","코스닥"],"range":["#1f6fe5","#cc3300","#88bf00"]}}}},{"mark":{"type":"point","filled":true,"size":0},"encoding":{"color":{"field":"s","type":"nominal","legend":{"title":null,"orient":"none","legendX":57.7,"legendY":203,"direction":"horizontal","columnPadding":7,"symbolStrokeWidth":0,"symbolOpacity":1}},"shape":{"field":"s","type":"nominal","legend":null,"scale":{"domain":["위메이드맥스","소프트웨어","코스닥"],"range":["M-1 -.17H-.6A.67 .67 0 0 1 .6 -.17H1V.17H.6A.67 .67 0 0 1 -.6 .17H-1Z","M-1 -.17H-.42L0 -.6L.42 -.17H1V.17H.42L0 .6L-.42 .17H-1Z","M-1 -.17H-.67V-.67H.67V-.17H1V.17H.67V.67H-.67V.17H-1Z"]}}}},{"transform":[{"filter":"datum.s==='위메이드맥스'"}],"mark":{"type":"point","shape":"circle","filled":true,"opacity":1,"size":70},"encoding":{"color":{"field":"s","type":"nominal"}}},{"transform":[{"filter":"datum.s==='소프트웨어'"}],"mark":{"type":"point","shape":"diamond","filled":true,"opacity":1,"size":70},"encoding":{"color":{"field":"s","type":"nominal"}}},{"transform":[{"filter":"datum.s==='코스닥'"}],"mark":{"type":"point","shape":"square","filled":true,"opacity":1,"size":70},"encoding":{"color":{"field":"s","type":"nominal"}}}]},

{"width":337,"height":3,"data":{"name":"hp"},"mark":{"type":"rule","color":"#bbbbbb","strokeWidth":2},"encoding":{"y":{"field":"p","type":"nominal","axis":null,"bandPosition":0,"scale":{"type":"band"}}}},
{"width":337,"height":3,"data":{"name":"hp"},"mark":{"type":"rule","color":"#bbbbbb","strokeWidth":2},"encoding":{"y":{"field":"p","type":"nominal","axis":null,"bandPosition":0,"scale":{"type":"band"}}}}
]}
